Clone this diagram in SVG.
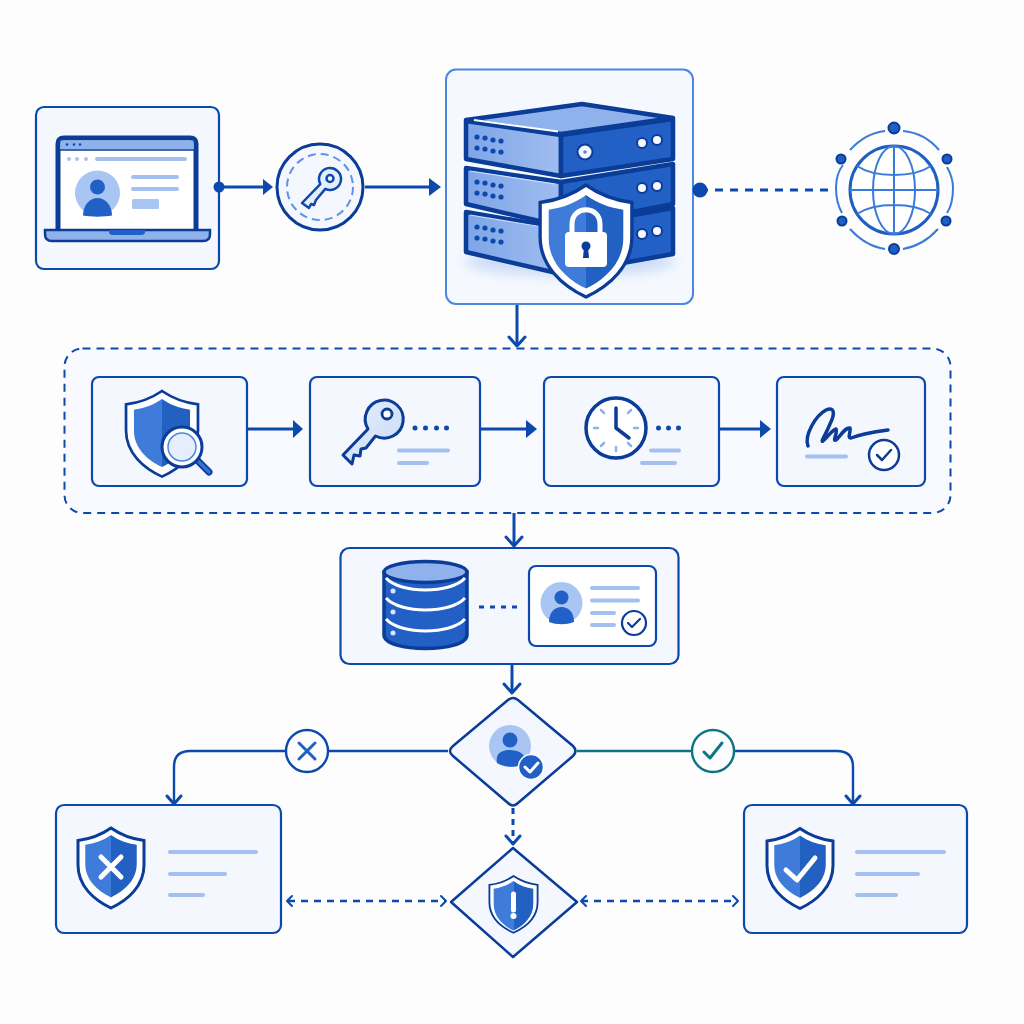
<svg xmlns="http://www.w3.org/2000/svg" xmlns:xlink="http://www.w3.org/1999/xlink" width="1024" height="1024" viewBox="0 0 1024 1024">
<style>
.card{fill:#f4f7fe;stroke:#0c49ad;stroke-width:2.200}
.ln{fill:none;stroke:#0c49ad;stroke-width:3}
.thin{fill:none;stroke:#0c49ad;stroke-width:2.400}
.head{fill:#0c49ad}
.chev{fill:none;stroke:#0c49ad;stroke-width:3;stroke-linecap:round;stroke-linejoin:round}
.lt{stroke:#a3c0f0;stroke-width:4;stroke-linecap:round;fill:none}
.navy{fill:none;stroke:#0a3c98;stroke-width:3.500;stroke-linecap:round;stroke-linejoin:round}
.mid{fill:#2160c6}
.pale{fill:#a9c5f3}
.dk{fill:#0c49ad}
.wh{fill:#fff}
.wchk{fill:none;stroke:#fff;stroke-linecap:round;stroke-linejoin:round}
.sv{stroke:#0a3c98;stroke-width:4.500;stroke-linejoin:round}
</style>
<defs>
<linearGradient id="half" x1="0" x2="1" y1="0" y2="0"><stop offset="0.5" stop-color="#3f7cd9"/><stop offset="0.5" stop-color="#2260c2"/></linearGradient>
<linearGradient id="soft" x1="0" x2="1" y1="0" y2="1"><stop offset="0" stop-color="#e4edfc"/><stop offset="1" stop-color="#c9dbf8"/></linearGradient>
<linearGradient id="face" x1="0" x2="1" y1="0" y2="0"><stop offset="0" stop-color="#7ea5e8"/><stop offset="1" stop-color="#a0bdf0"/></linearGradient>
<path id="sh" d="M0 0C-10 7-21 11-33 12.500L-33 37C-33 58-17 72 0 80C17 72 33 58 33 37L33 12.500C21 11 10 7 0 0Z"/>
<g id="shield"><use xlink:href="#sh" href="#sh" fill="#fff" stroke="#0a3c98" stroke-width="3"/><use xlink:href="#sh" href="#sh" fill="url(#half)" transform="translate(0 7) scale(.78)"/></g>
<filter id="blur" x="-20%" y="-50%" width="140%" height="200%"><feGaussianBlur stdDeviation="6"/></filter>
</defs>
<rect width="1024" height="1024" fill="#fdfdfd"/>

<g id="laptop-node">
<rect x="36" y="107" width="183" height="162" rx="8" class="card"/>
<path d="M58 232V144Q58 138 64 138H190Q196 138 196 144V232Z" fill="#fff" stroke="#0a3c98" stroke-width="5"/>
<rect x="60.500" y="140.500" width="133" height="9" fill="#8fb2ec"/>
<path d="M60 150H194" stroke="#0a3c98" stroke-width="1.500"/>
<circle cx="67" cy="144.500" r="1.300" class="dk"/><circle cx="74" cy="144.500" r="1.300" class="dk"/><circle cx="80" cy="144.500" r="1.300" class="dk"/>
<circle cx="69" cy="159" r="2" class="pale"/><circle cx="77" cy="159" r="2" class="pale"/><circle cx="86" cy="159" r="2" class="pale"/>
<path class="lt" d="M97 159H185"/>
<circle cx="97.500" cy="193" r="22.500" class="pale"/>
<circle cx="97.500" cy="187" r="7.500" class="mid"/>
<path class="mid" d="M83 215.500C83 205 90 198 97.500 198C105 198 112 205 112 215.500C104 217 91 217 83 215.500Z"/>
<path class="lt" d="M133 177H177M133 189H177"/>
<rect x="132" y="199" width="27" height="10" rx="1.500" class="pale"/>
<path d="M45 230H210V234Q210 241 203 241H52Q45 241 45 234Z" fill="#8fb2ec" stroke="#0a3c98" stroke-width="2.500"/>
<path d="M109 230H145V232Q145 235 141 235H113Q109 235 109 232Z" class="mid"/>
</g>

<g id="key-node">
<circle cx="320" cy="187" r="43" fill="#f4f7fe" stroke="#0a3c98" stroke-width="3"/>
<circle cx="320" cy="187" r="33" fill="none" stroke="#5f93e4" stroke-width="2" stroke-dasharray="8 5"/>
<path d="M320.300 184.100A11 11 0 1 1 325.300 188.900L316 200L314 205L311 204L309 208L302 203Z" fill="#e6eefc" stroke="#0c49ad" stroke-width="2.500" stroke-linejoin="round"/>
<circle cx="330" cy="178.500" r="3.500" fill="#fff" stroke="#0c49ad" stroke-width="2.500"/>
</g>

<g id="server-node">
<rect x="446" y="69.500" width="247" height="234.500" rx="10" fill="#f5f8fe" stroke="#4a87e0" stroke-width="2"/>
<ellipse cx="570" cy="262" rx="105" ry="14" fill="#8fb2ec" opacity=".4" filter="url(#blur)"/>
<g class="sv">
<path d="M466 212L561 228L561 274L466 252Z" fill="url(#face)"/><path d="M561 228L673 208L673 254L561 274Z" fill="#2260c6"/>
<path d="M466 168L561 182L561 226L466 204Z" fill="url(#face)"/><path d="M561 182L673 164L673 204L561 226Z" fill="#2260c6"/>
<path d="M466 121L561 135L561 176L466 159Z" fill="url(#face)"/><path d="M561 135L673 119L673 159L561 176Z" fill="#2260c6"/>
<path d="M466 120L582 104L673 118L561 134Z" fill="#8fb2ec"/>
</g>
<path d="M474 120L558 131.500" stroke="#fff" stroke-width="2"/>
<path d="M470 171L555 184M470 215L555 229" stroke="#cfe0fa" stroke-width="1.200"/>
<g class="dk">
<circle cx="477" cy="137" r="2.600"/><circle cx="485" cy="138" r="2.600"/><circle cx="493" cy="140" r="2.600"/><circle cx="501" cy="141" r="2.600"/>
<circle cx="477" cy="148" r="2.600"/><circle cx="485" cy="149" r="2.600"/><circle cx="493" cy="151" r="2.600"/><circle cx="501" cy="152" r="2.600"/>
<circle cx="477" cy="182" r="2.600"/><circle cx="485" cy="183" r="2.600"/><circle cx="493" cy="185" r="2.600"/><circle cx="501" cy="186" r="2.600"/>
<circle cx="477" cy="193" r="2.600"/><circle cx="485" cy="194" r="2.600"/><circle cx="493" cy="196" r="2.600"/><circle cx="501" cy="197" r="2.600"/>
<circle cx="477" cy="227" r="2.600"/><circle cx="485" cy="228" r="2.600"/><circle cx="493" cy="230" r="2.600"/><circle cx="501" cy="231" r="2.600"/>
<circle cx="477" cy="238" r="2.600"/><circle cx="485" cy="239" r="2.600"/><circle cx="493" cy="241" r="2.600"/><circle cx="501" cy="242" r="2.600"/>
</g>
<g fill="#f4f7fe" stroke="#0a3c98" stroke-width="2">
<circle cx="642" cy="143" r="5"/><circle cx="657" cy="140" r="5"/>
<circle cx="642" cy="188" r="5"/><circle cx="657" cy="186" r="5"/>
<circle cx="642" cy="234" r="5"/><circle cx="657" cy="231" r="5"/>
<circle cx="585" cy="152" r="7.500"/>
</g>
<circle cx="585" cy="152" r="1.800" fill="#4a87e0"/>
<use xlink:href="#sh" href="#sh" transform="translate(586 185) scale(1.390 1.400)" fill="#fff" stroke="#0a3c98" stroke-width="2.400"/>
<use xlink:href="#sh" href="#sh" transform="translate(586 195) scale(1.130 1.170)" fill="url(#half)"/>
<rect x="565" y="232" width="42" height="35" rx="4" fill="#fff"/>
<path d="M572 232V224C572 205 600 205 600 224V232" fill="none" stroke="#fff" stroke-width="5"/>
<circle cx="586" cy="246" r="4.500" fill="#0a3c98"/><path d="M584 247H588L589 258H583Z" fill="#0a3c98"/>
</g>

<g id="globe-node">
<circle cx="894" cy="190" r="44" fill="#fff" stroke="#1f5fc4" stroke-width="3"/>
<g fill="none" stroke="#3a7ada" stroke-width="2">
<ellipse cx="894" cy="190" rx="21" ry="44"/>
<path d="M894 146V234M850 190H938M857 166C875 178 913 178 931 166M857 214C875 202 913 202 931 214"/>
<path d="M836 188C836 176 839 170 843 165M850 150C862 137 875 132 885 131M903 131C915 132 928 137 939 150M947 167C951 174 953 182 953 188C953 198 951 207 947 213M938 229C928 240 915 247 903 249M885 249C872 247 860 240 850 229M842 213C838 206 836 198 836 188"/>
</g>
<g fill="#1f5fc4" stroke="#0a3c98" stroke-width="2">
<circle cx="894" cy="128" r="5.500"/><circle cx="894" cy="249" r="5"/><circle cx="841" cy="159" r="4.500"/><circle cx="947" cy="159" r="4.500"/><circle cx="842" cy="221" r="4.500"/><circle cx="946" cy="221" r="4.500"/>
</g>
</g>

<g id="pipeline-container">
<rect x="64.500" y="348.500" width="886" height="164.500" rx="18" fill="#f8faff" stroke="#0c49ad" stroke-width="2" stroke-dasharray="8 6"/>
</g>

<g id="inspect-node">
<rect x="92" y="377" width="155" height="109" rx="7" class="card"/>
<use xlink:href="#sh" href="#sh" transform="translate(162 391) scale(1.090 1.070)" fill="#fff" stroke="#0a3c98" stroke-width="2.500"/>
<use xlink:href="#sh" href="#sh" transform="translate(162 399) scale(.850 .850)" fill="url(#half)"/>
<path d="M197 460L209 472" stroke="#0a3c98" stroke-width="7" stroke-linecap="round"/>
<path d="M197 460L209 472" stroke="#2f73d6" stroke-width="3.500" stroke-linecap="round"/>
<circle cx="182" cy="447" r="20" fill="#fff" stroke="#0a3c98" stroke-width="3"/>
<circle cx="182" cy="447" r="14" fill="#e6eefc" stroke="#4a87e0" stroke-width="1.500"/>
</g>

<g id="key-step-node">
<rect x="310" y="377" width="170" height="109" rx="7" class="card"/>
<path d="M368 429A19 19 0 1 1 375.500 436L366 448L361 449L360 456L354 455L352 464L343 455Z" fill="url(#soft)" stroke="#0a3c98" stroke-width="3" stroke-linejoin="round"/>
<circle cx="387" cy="414" r="5" fill="#fff" stroke="#0a3c98" stroke-width="2.800"/>
<circle cx="415" cy="428" r="2.500" class="dk"/><circle cx="425.500" cy="428" r="2.500" class="dk"/><circle cx="436.500" cy="428" r="2.500" class="dk"/><circle cx="446.500" cy="428" r="2.500" class="dk"/>
<path class="lt" d="M399 450.500H448M399 463H427"/>
</g>

<g id="clock-node">
<rect x="544" y="377" width="175" height="109" rx="7" class="card"/>
<circle cx="616" cy="428" r="30" fill="#fff" stroke="#0a3c98" stroke-width="3.500"/>
<path d="M616 408V428L629 438" class="navy"/>
<path d="M601 410L604 413M631 410L628 413M594 428H598M634 428H638M601 446L604 443M631 446L628 443M616 447V451" stroke="#8fb2ec" stroke-width="2.500" stroke-linecap="round"/>
<circle cx="658.500" cy="428" r="2.500" class="dk"/><circle cx="668.500" cy="428" r="2.500" class="dk"/><circle cx="678.500" cy="428" r="2.500" class="dk"/>
<path class="lt" d="M651 450.500H679M642 463H675"/>
</g>

<g id="signature-node">
<rect x="777" y="377" width="148" height="109" rx="7" class="card"/>
<path class="navy" d="M808 446C804 436 815 416 826 410C835 406 835 414 830 424C826 434 820 443 823 441C828 437 832 430 836 429C838 432 832 442 836 440C840 437 845 427 850 428C851 432 847 438 851 438C856 436 866 433 888 430"/>
<path class="lt" d="M807 456.500H846"/>
<circle cx="884" cy="455" r="15" fill="#fff" stroke="#0a3c98" stroke-width="2.500"/>
<path class="navy" d="M877 455L882 460L891 450" style="stroke-width:2.500"/>
</g>

<g id="storage-node">
<rect x="340.500" y="548" width="338" height="116" rx="9" class="card"/>
<path d="M384 572V635C384 653 467 653 467 635V572Z" fill="#2260c6" stroke="#0a3c98" stroke-width="3.500"/>
<ellipse cx="425.500" cy="572" rx="41.500" ry="10.500" fill="#8fb2ec" stroke="#0a3c98" stroke-width="3.500"/>
<path d="M386 578C400 594 451 594 465 578M386 598C400 614 451 614 465 598M386 619C400 635 451 635 465 619" fill="none" stroke="#fff" stroke-width="3"/>
<circle cx="393" cy="591" r="2.500" fill="#dbe7fb"/><circle cx="393" cy="612" r="2.500" fill="#dbe7fb"/><circle cx="393" cy="633" r="2.500" fill="#dbe7fb"/>
<path class="ln" d="M479 607H518" stroke-dasharray="5 6"/>
<rect x="529" y="566" width="127" height="80" rx="7" fill="#fff" stroke="#0c49ad" stroke-width="2.200"/>
<circle cx="561.500" cy="603" r="21" class="pale"/>
<circle cx="561.500" cy="597.500" r="7" class="mid"/>
<path class="mid" d="M549 622C549 612 555 607 561.500 607C568 607 574 612 574 622C566 625 557 625 549 622Z"/>
<path class="lt" d="M592 588H638M592 600.500H638M592 613H614M592 625H614"/>
<circle cx="634" cy="623" r="12" fill="#fff" stroke="#0a3c98" stroke-width="2.200"/>
<path class="navy" d="M628 623L632 627L640 619" style="stroke-width:2.200"/>
</g>

<g id="decision-node">
<path d="M508 700Q513 696 518 700L573 746Q578 751 573 756L518 803Q513 808 508 803L453 756Q447 751 453 746Z" fill="#f4f7fe" stroke="#0a3c98" stroke-width="2.500"/>
<circle cx="510" cy="746" r="21" class="pale"/>
<circle cx="510" cy="740" r="7.500" class="mid"/>
<path class="mid" d="M497 763C495 753 502 750 510 750C518 750 525 753 527 763C518 768 505 768 497 763Z"/>
<circle cx="531" cy="767" r="12.500" fill="#2160c6" stroke="#fff" stroke-width="1.500"/>
<path class="wchk" d="M525 767L530 772L538 763" stroke-width="3"/>
</g>

<g id="alert-node">
<path d="M513 848L577 902L513 957L451 902Z" fill="#f4f7fe" stroke="#0a3c98" stroke-width="2.500" stroke-linejoin="round"/>
<use xlink:href="#sh" href="#sh" transform="translate(513.500 876) scale(.730 .710)" fill="#fff" stroke="#0a3c98" stroke-width="2.500"/>
<use xlink:href="#sh" href="#sh" transform="translate(513.500 881) scale(.600 .620)" fill="url(#half)"/>
<path d="M513.500 894V910" stroke="#fff" stroke-width="5" stroke-linecap="round"/>
<circle cx="513.500" cy="916" r="3" fill="#fff"/>
</g>

<g id="denied-node">
<rect x="56" y="805" width="225" height="128" rx="8" class="card"/>
<use xlink:href="#shield" href="#shield" transform="translate(111 828)"/>
<path d="M101 857L121 877M121 857L101 877" stroke="#fff" stroke-width="5" stroke-linecap="round"/>
<path class="lt" d="M170 852H256M170 874H225M170 895H203"/>
</g>

<g id="granted-node">
<rect x="744" y="805" width="223" height="128" rx="8" class="card"/>
<use xlink:href="#shield" href="#shield" transform="translate(800 828.500)"/>
<path class="wchk" d="M786 870L797 880L815 858" stroke-width="5"/>
<path class="lt" d="M857 852H944M857 874H918M857 895H896"/>
</g>

<g id="connectors">
<circle cx="219" cy="187" r="5.500" class="dk"/>
<path class="ln" d="M219 187H264"/><path class="head" d="M263 179L273 187L263 195Z"/>
<path class="ln" d="M365 187H430"/><path class="head" d="M429 178L441 187L429 196Z"/>
<circle cx="700" cy="190" r="7.500" class="dk"/>
<path class="ln" d="M700 190H832" stroke-width="2.500" stroke-dasharray="8 7"/>
<path class="ln" d="M517 305V345"/><path class="chev" d="M509 337L517 346L525 337"/>
<path class="ln" d="M248 429H294"/><path class="head" d="M293 420L303 429L293 438Z"/>
<path class="ln" d="M480 429H527"/><path class="head" d="M526 420L537 429L526 438Z"/>
<path class="ln" d="M720 429H761"/><path class="head" d="M760 420L771 429L760 438Z"/>
<path class="ln" d="M514 513V545"/><path class="chev" d="M506 537L514 546L522 537"/>
<path class="ln" d="M512 664V692"/><path class="chev" d="M504 684L512 693L520 684"/>
<path class="thin" d="M448 751H328M286 751H190Q174 751 174 767V803"/><path class="chev" d="M167 796L174 804L181 796"/>
<path d="M577 751H692" fill="none" stroke="#0f7585" stroke-width="2.500"/>
<path class="thin" d="M734 751H837Q853 751 853 767V803"/><path class="chev" d="M846 796L853 804L860 796"/>
<path class="ln" d="M513 808V843" stroke-width="2.500" stroke-dasharray="6 5"/><path class="chev" d="M506 836L513 844L520 836"/>
<path class="thin" d="M288 901H445" stroke-dasharray="7 6"/><path class="chev" d="M292 896L287 901L292 906M441 896L446 901L441 906" style="stroke-width:2"/>
<path class="thin" d="M581 901H738" stroke-dasharray="7 6"/><path class="chev" d="M586 896L581 901L586 906M733 896L738 901L733 906" style="stroke-width:2"/>
</g>

<g id="reject-badge">
<circle cx="307" cy="751" r="21" fill="#fdfdfd" stroke="#0c49ad" stroke-width="2.400"/>
<path d="M299 743L315 759M315 743L299 759" fill="none" stroke="#1f5fc4" stroke-width="3" stroke-linecap="round"/>
</g>

<g id="accept-badge">
<circle cx="713" cy="751" r="21" fill="#fdfdfd" stroke="#0f7585" stroke-width="2.400"/>
<path d="M704 752L710 758L722 743" fill="none" stroke="#0f7585" stroke-width="3" stroke-linecap="round" stroke-linejoin="round"/>
</g>
</svg>
